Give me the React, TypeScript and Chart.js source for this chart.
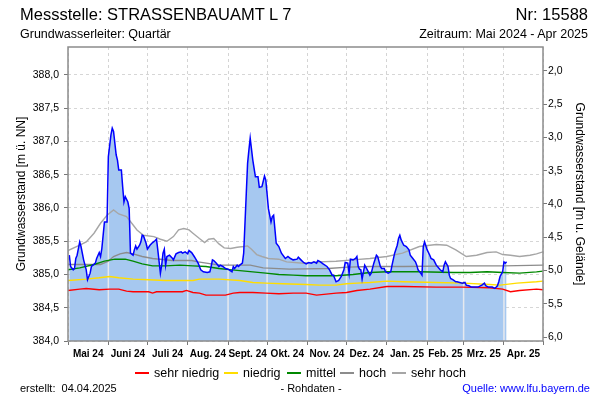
import React, { useEffect, useRef } from 'react';
import { Chart, registerables } from 'chart.js';

Chart.register(...registerables);

// Days counted from 2024-05-01
const monthStarts = [0, 31, 61, 92, 123, 153, 184, 214, 245, 276, 304, 335, 365];
const monthLabels = ['Mai 24', 'Juni 24', 'Juli 24', 'Aug. 24', 'Sept. 24', 'Okt. 24', 'Nov. 24', 'Dez. 24', 'Jan. 25', 'Feb. 25', 'Mrz. 25', 'Apr. 25'];

const leftTicks = [384.0, 384.5, 385.0, 385.5, 386.0, 386.5, 387.0, 387.5, 388.0];
const rightTicks = [2.0, 2.5, 3.0, 3.5, 4.0, 4.5, 5.0, 5.5, 6.0];
const leftMin = 384.0;
const leftMax = 388.42;
const groundLevel = 390.06;

const levelDay = [1, 2, 4, 5, 6, 7, 9, 10, 12, 14, 15, 17, 18, 21, 22, 24, 25, 26, 28, 30, 31, 33, 34, 35, 37, 38, 39, 41, 42, 43, 44, 46, 47, 48, 50, 51, 52, 53, 55, 56, 57, 58, 60, 61, 63, 65, 67, 68, 69, 71, 72, 73, 74, 75, 76, 78, 80, 81, 83, 85, 87, 88, 90, 92, 93, 95, 97, 98, 100, 102, 104, 107, 109, 110, 111, 112, 114, 116, 117, 119, 121, 123, 126, 127, 128, 130, 131, 132, 134, 135, 137, 138, 139, 140, 142, 144, 146, 147, 149, 151, 152, 154, 156, 157, 158, 160, 162, 164, 167, 169, 171, 173, 176, 177, 179, 181, 183, 185, 187, 189, 191, 192, 194, 196, 199, 201, 203, 204, 206, 208, 210, 212, 213, 215, 216, 217, 219, 221, 222, 223, 224, 225, 226, 228, 230, 232, 233, 235, 237, 238, 240, 241, 243, 244, 246, 248, 249, 251, 253, 254, 255, 256, 258, 260, 262, 263, 265, 267, 268, 269, 271, 272, 273, 274, 276, 278, 279, 281, 283, 286, 288, 289, 290, 292, 293, 294, 296, 298, 299, 301, 303, 305, 306, 308, 310, 313, 315, 318, 320, 321, 323, 326, 328, 330, 331, 332, 334, 335, 336, 337];
const levelValue = [385.29, 385.12, 385.07, 385.09, 385.24, 385.29, 385.49, 385.42, 385.22, 385.07, 384.92, 385.02, 385.12, 385.17, 385.24, 385.33, 385.27, 385.39, 385.79, 385.79, 386.77, 387.10, 387.20, 387.15, 386.80, 386.72, 386.57, 386.57, 386.32, 386.09, 386.17, 386.09, 385.99, 385.32, 385.29, 385.37, 385.43, 385.38, 385.44, 385.49, 385.59, 385.58, 385.47, 385.38, 385.44, 385.48, 385.51, 385.53, 385.37, 385.02, 385.14, 385.32, 385.38, 385.14, 385.27, 385.29, 385.25, 385.22, 385.31, 385.33, 385.34, 385.32, 385.34, 385.31, 385.36, 385.33, 385.27, 385.24, 385.17, 385.07, 385.04, 385.03, 385.04, 385.12, 385.22, 385.21, 385.17, 385.12, 385.14, 385.12, 385.09, 385.08, 385.04, 385.12, 385.09, 385.14, 385.12, 385.14, 385.17, 385.32, 386.22, 386.67, 386.87, 387.05, 386.72, 386.47, 386.47, 386.31, 386.32, 386.48, 386.42, 385.99, 385.79, 385.87, 385.89, 385.47, 385.42, 385.32, 385.24, 385.27, 385.24, 385.22, 385.23, 385.26, 385.22, 385.18, 385.16, 385.18, 385.17, 385.19, 385.17, 385.21, 385.19, 385.16, 385.12, 385.07, 384.99, 384.99, 384.89, 384.91, 384.97, 385.07, 385.18, 385.17, 385.02, 385.23, 385.22, 385.24, 385.27, 385.12, 385.08, 385.07, 384.93, 385.14, 385.07, 384.99, 385.02, 385.17, 385.29, 385.27, 385.12, 385.09, 385.09, 385.04, 385.02, 385.04, 385.14, 385.32, 385.44, 385.54, 385.59, 385.52, 385.44, 385.42, 385.37, 385.29, 385.24, 385.19, 385.14, 385.07, 385.02, 384.99, 385.42, 385.49, 385.37, 385.29, 385.24, 385.22, 385.14, 385.07, 385.04, 385.14, 385.19, 385.12, 384.99, 384.94, 384.92, 384.89, 384.89, 384.88, 384.87, 384.88, 384.84, 384.83, 384.81, 384.81, 384.81, 384.84, 384.87, 384.83, 384.81, 384.81, 384.79, 384.83, 384.89, 384.97, 385.04, 385.19, 385.17, 385.19];

const sehrNiedrigDay = [0, 9, 14, 24, 32, 39, 45, 50, 62, 65, 68, 88, 91, 96, 101, 106, 121, 127, 132, 142, 152, 162, 173, 183, 191, 206, 214, 222, 232, 245, 258, 283, 303, 324, 334, 340, 347, 360, 365];
const sehrNiedrigValue = [384.76, 384.78, 384.79, 384.77, 384.78, 384.78, 384.75, 384.74, 384.74, 384.72, 384.74, 384.74, 384.76, 384.73, 384.72, 384.69, 384.69, 384.72, 384.73, 384.73, 384.72, 384.71, 384.72, 384.72, 384.69, 384.72, 384.73, 384.76, 384.78, 384.82, 384.82, 384.81, 384.81, 384.80, 384.78, 384.74, 384.76, 384.78, 384.77];

const niedrigDay = [0, 14, 24, 32, 39, 50, 62, 75, 96, 101, 116, 132, 142, 152, 165, 183, 193, 206, 214, 222, 232, 245, 258, 283, 304, 324, 332, 345, 360, 365];
const niedrigValue = [384.91, 384.93, 384.95, 384.97, 384.95, 384.93, 384.92, 384.91, 384.91, 384.93, 384.93, 384.91, 384.88, 384.87, 384.86, 384.85, 384.84, 384.84, 384.86, 384.87, 384.88, 384.90, 384.89, 384.88, 384.87, 384.85, 384.84, 384.87, 384.89, 384.90];

const mittelDay = [0, 9, 20, 28, 36, 44, 50, 57, 65, 75, 86, 96, 106, 116, 126, 142, 152, 162, 173, 183, 206, 219, 232, 245, 270, 296, 309, 322, 334, 347, 360, 365];
const mittelValue = [385.07, 385.10, 385.15, 385.20, 385.23, 385.23, 385.20, 385.16, 385.13, 385.13, 385.14, 385.13, 385.12, 385.09, 385.07, 385.04, 385.02, 385.00, 384.99, 384.98, 384.98, 385.00, 385.03, 385.04, 385.04, 385.03, 385.03, 385.04, 385.03, 385.02, 385.04, 385.05];

const hochDay = [0, 25, 31, 35, 40, 45, 50, 57, 65, 80, 95, 100, 110, 117, 140, 150, 170, 200, 215, 232, 258, 300, 335, 365];
const hochValue = [385.15, 385.15, 385.20, 385.27, 385.31, 385.33, 385.31, 385.27, 385.24, 385.21, 385.21, 385.19, 385.16, 385.14, 385.14, 385.10, 385.08, 385.09, 385.11, 385.12, 385.12, 385.13, 385.13, 385.14];

const sehrHochDay = [0, 9, 14, 20, 25, 30, 35, 39, 45, 49, 53, 58, 66, 71, 76, 81, 85, 89, 93, 96, 101, 105, 108, 112, 116, 120, 125, 130, 135, 138, 141, 145, 149, 154, 162, 168, 181, 193, 206, 219, 232, 245, 257, 270, 283, 291, 298, 306, 314, 322, 329, 334, 340, 347, 355, 360, 365];
const sehrHochValue = [385.36, 385.44, 385.49, 385.62, 385.77, 385.89, 385.97, 385.91, 385.87, 385.77, 385.67, 385.59, 385.57, 385.53, 385.50, 385.57, 385.67, 385.69, 385.67, 385.62, 385.54, 385.48, 385.53, 385.54, 385.46, 385.40, 385.39, 385.41, 385.42, 385.43, 385.38, 385.30, 385.27, 385.24, 385.23, 385.19, 385.17, 385.19, 385.20, 385.22, 385.24, 385.27, 385.32, 385.42, 385.45, 385.44, 385.37, 385.27, 385.29, 385.33, 385.34, 385.30, 385.29, 385.27, 385.29, 385.31, 385.34];

const legendItems = [
  { label: 'sehr niedrig', color: '#ff0000', textX: 154 },
  { label: 'niedrig', color: '#ffdd00', textX: 243 },
  { label: 'mittel', color: '#008800', textX: 306 },
  { label: 'hoch', color: '#8c8c8c', textX: 359 },
  { label: 'sehr hoch', color: '#a6a6a6', textX: 411 },
];

const toPts = (days: number[], vals: number[]) => days.map((d, i) => ({ x: d, y: vals[i] }));
const midMonths = monthStarts.slice(0, -1).map((d, i) => (d + monthStarts[i + 1]) / 2);
const fmt = (v: number) => v.toFixed(1).replace('.', ',');
const FONT = '"Liberation Sans", Arial, sans-serif';

const monthLinesPlugin = {
  id: 'monthLines',
  beforeDatasetsDraw(chart: any) {
    const meta = chart.getDatasetMeta(0);
    const pts = meta.data;
    if (!pts || !pts.length) return;
    const { ctx, chartArea } = chart;
    const xs = chart.scales.x;
    ctx.save();
    ctx.beginPath();
    ctx.moveTo(pts[0].x, chartArea.bottom);
    pts.forEach((p: any) => ctx.lineTo(p.x, p.y));
    ctx.lineTo(pts[pts.length - 1].x, chartArea.bottom);
    ctx.closePath();
    ctx.clip();
    ctx.strokeStyle = '#e6e9ee';
    ctx.lineWidth = 1.5;
    monthStarts.forEach((d) => {
      const x = xs.getPixelForValue(d);
      ctx.beginPath();
      ctx.moveTo(x, chartArea.top);
      ctx.lineTo(x, chartArea.bottom);
      ctx.stroke();
    });
    ctx.restore();
  },
  afterDatasetsDraw(chart: any) {
    const { ctx, chartArea } = chart;
    ctx.save();
    ctx.strokeStyle = '#8c8c8c';
    ctx.lineWidth = 1.5;
    ctx.strokeRect(chartArea.left, chartArea.top, chartArea.right - chartArea.left, chartArea.bottom - chartArea.top);
    ctx.restore();
  },
};

export default function App() {
  const ref = useRef<HTMLCanvasElement | null>(null);

  useEffect(() => {
    document.body.style.margin = '0';
    if (!ref.current) return;
    Chart.defaults.font.family = FONT;
    const lineDs = (label: string, days: number[], vals: number[], color: string, width = 1.4) => ({
      label,
      data: toPts(days, vals),
      borderColor: color,
      borderWidth: width,
      pointRadius: 0,
      fill: false,
      tension: 0,
    });
    const chart = new Chart(ref.current, {
      type: 'line',
      data: {
        datasets: [
          {
            label: 'Grundwasserstand',
            data: toPts(levelDay, levelValue),
            borderColor: '#0000ff',
            borderWidth: 1.5,
            backgroundColor: '#a6c8f0',
            fill: 'start',
            pointRadius: 0,
            tension: 0,
          },
          lineDs('sehr niedrig', sehrNiedrigDay, sehrNiedrigValue, '#ff0000'),
          lineDs('niedrig', niedrigDay, niedrigValue, '#ffdd00'),
          lineDs('mittel', mittelDay, mittelValue, '#008800'),
          lineDs('hoch', hochDay, hochValue, '#8c8c8c'),
          lineDs('sehr hoch', sehrHochDay, sehrHochValue, '#a6a6a6'),
        ],
      },
      options: {
        animation: false,
        responsive: false,
        maintainAspectRatio: false,
        layout: { padding: { top: 47, left: 0, right: 0, bottom: 0 } },
        plugins: {
          legend: { display: false },
          tooltip: { enabled: false },
          filler: { drawTime: 'beforeDatasetsDraw' },
        } as any,
        scales: {
          x: {
            type: 'linear',
            min: 0,
            max: 365,
            afterBuildTicks: (scale: any) => {
              const vals = [...monthStarts, ...midMonths].sort((a, b) => a - b);
              scale.ticks = vals.map((v) => ({ value: v }));
            },
            afterFit: (scale: any) => {
              scale.height = 59;
            },
            ticks: {
              autoSkip: false,
              maxRotation: 0,
              minRotation: 0,
              padding: 3,
              color: '#000',
              font: { size: 10, weight: 'bold' },
              callback: (value: any) => {
                const idx = midMonths.indexOf(Number(value));
                return idx >= 0 ? monthLabels[idx] : '';
              },
            },
            grid: {
              color: (ctx: any) => (ctx.tick && monthStarts.includes(ctx.tick.value) ? '#d4d4d4' : 'rgba(0,0,0,0)'),
              tickColor: (ctx: any) => (ctx.tick && monthStarts.includes(ctx.tick.value) ? '#777777' : 'rgba(0,0,0,0)'),
              tickLength: 4,
              lineWidth: 1,
            },
            border: { display: false, dash: [3, 3] },
          },
          y: {
            type: 'linear',
            position: 'left',
            min: leftMin,
            max: leftMax,
            afterBuildTicks: (scale: any) => {
              scale.ticks = leftTicks.map((v) => ({ value: v }));
            },
            afterFit: (scale: any) => {
              scale.width = 68;
            },
            ticks: {
              color: '#000',
              padding: 5,
              font: { size: 10.5 },
              callback: (value: any) => fmt(Number(value)),
            },
            grid: {
              color: '#d6d6d6',
              tickColor: '#777777',
              tickLength: 4,
              lineWidth: 1,
            },
            border: { display: false, dash: [3, 3] },
            title: {
              display: true,
              text: 'Grundwasserstand [m ü. NN]',
              color: '#000',
              font: { size: 12 },
              padding: { top: 14, bottom: 0 },
            },
          },
          y2: {
            type: 'linear',
            position: 'right',
            reverse: true,
            min: groundLevel - leftMax,
            max: groundLevel - leftMin,
            afterBuildTicks: (scale: any) => {
              scale.ticks = rightTicks.map((v) => ({ value: v }));
            },
            afterFit: (scale: any) => {
              scale.width = 57;
            },
            ticks: {
              color: '#000',
              padding: 1,
              font: { size: 10.5 },
              callback: (value: any) => fmt(Number(value)),
            },
            grid: {
              drawOnChartArea: false,
              tickColor: '#777777',
              tickLength: 4,
            },
            border: { display: false },
            title: {
              display: true,
              text: 'Grundwasserstand [m u. Gelände]',
              color: '#000',
              font: { size: 12 },
              padding: { top: 13, bottom: 0 },
            },
          },
        },
      } as any,
      plugins: [monthLinesPlugin],
    });
    return () => chart.destroy();
  }, []);

  const abs = (extra: React.CSSProperties): React.CSSProperties => ({
    position: 'absolute',
    whiteSpace: 'pre',
    fontFamily: FONT,
    color: '#000',
    ...extra,
  });

  return (
    <div style={{ position: 'relative', width: 600, height: 400, background: '#fff', overflow: 'hidden' }}>
      <canvas ref={ref} width={600} height={400} style={{ position: 'absolute', left: 0, top: 0, width: 600, height: 400 }} />
      <div style={abs({ left: 20, top: 5.5, fontSize: 16.5, lineHeight: '16.5px' })}>Messstelle: STRASSENBAUAMT L 7</div>
      <div style={abs({ right: 12, top: 5.5, fontSize: 16.5, lineHeight: '16.5px' })}>Nr: 15588</div>
      <div style={abs({ left: 20, top: 28, fontSize: 12.5, lineHeight: '12.5px' })}>Grundwasserleiter: Quartär</div>
      <div style={abs({ right: 12, top: 28, fontSize: 12.5, lineHeight: '12.5px' })}>Zeitraum: Mai 2024 - Apr 2025</div>
      {legendItems.map((it) => (
        <React.Fragment key={it.label}>
          <div style={{ position: 'absolute', left: it.textX - 19, top: 372, width: 14, height: 2, background: it.color }} />
          <div style={abs({ left: it.textX, top: 366.5, fontSize: 12.5, lineHeight: '12.5px' })}>{it.label}</div>
        </React.Fragment>
      ))}
      <div style={abs({ left: 20, top: 382.7, fontSize: 11, lineHeight: '11px' })}>{'erstellt:  04.04.2025'}</div>
      <div style={abs({ left: 311, top: 382.7, fontSize: 11, lineHeight: '11px', transform: 'translateX(-50%)' })}>- Rohdaten -</div>
      <div style={abs({ right: 10, top: 382.7, fontSize: 11, lineHeight: '11px', color: '#0000ff' })}>Quelle: www.lfu.bayern.de</div>
    </div>
  );
}
